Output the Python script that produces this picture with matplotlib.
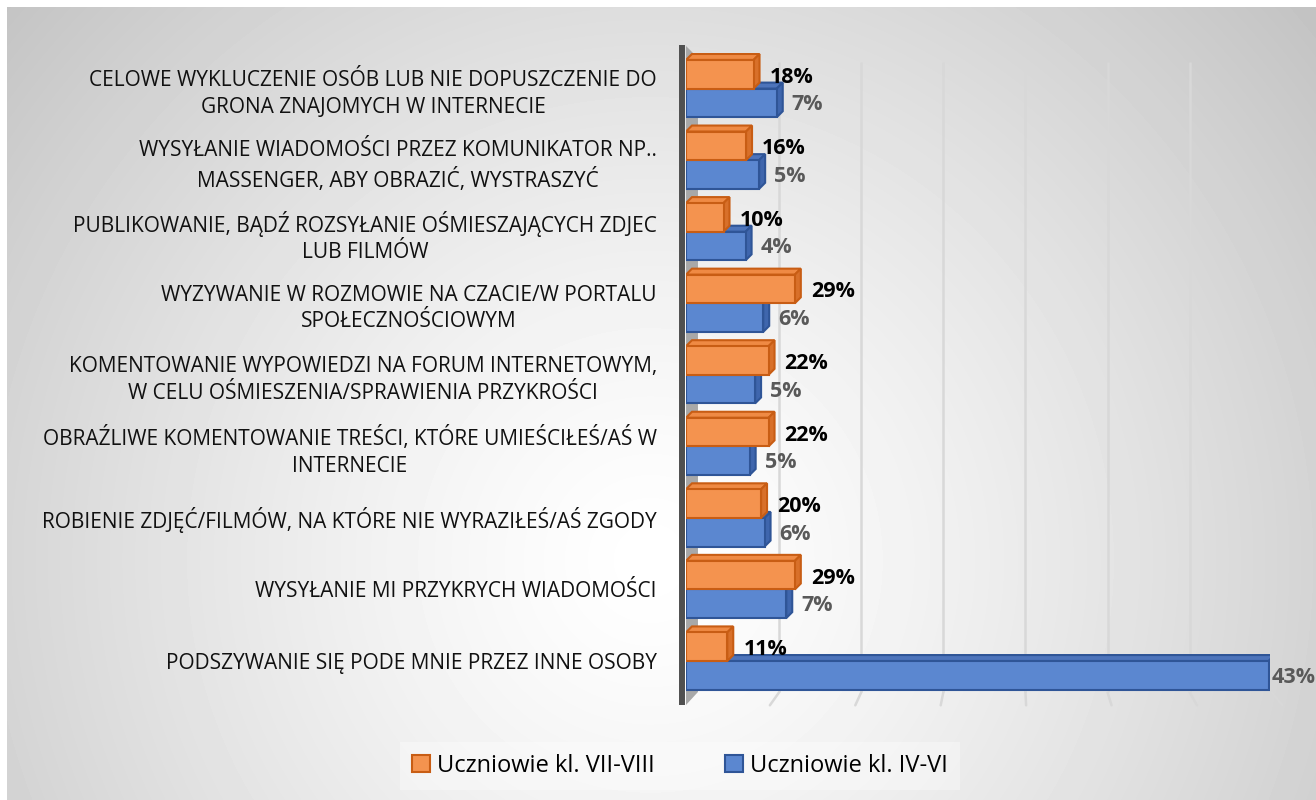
import numpy as np
import matplotlib
matplotlib.use('Agg')
import matplotlib.pyplot as plt
from matplotlib import patheffects
from matplotlib.colors import to_rgb
from matplotlib.path import Path
from matplotlib.patches import Patch, Polygon
from matplotlib.transforms import blended_transform_factory, ScaledTranslation, IdentityTransform

plt.rcParams['font.family'] = ['Open Sans', 'DejaVu Sans']

kategorie = [
    "CELOWE WYKLUCZENIE OSÓB LUB NIE DOPUSZCZENIE DO\nGRONA ZNAJOMYCH W INTERNECIE",
    "WYSYŁANIE WIADOMOŚCI PRZEZ KOMUNIKATOR NP..\nMASSENGER, ABY OBRAZIĆ, WYSTRASZYĆ",
    "PUBLIKOWANIE, BĄDŹ ROZSYŁANIE OŚMIESZAJĄCYCH ZDJEC\nLUB FILMÓW",
    "WYZYWANIE W ROZMOWIE NA CZACIE/W PORTALU\nSPOŁECZNOŚCIOWYM",
    "KOMENTOWANIE WYPOWIEDZI NA FORUM INTERNETOWYM,\nW CELU OŚMIESZENIA/SPRAWIENIA PRZYKROŚCI",
    "OBRAŹLIWE KOMENTOWANIE TREŚCI, KTÓRE UMIEŚCIŁEŚ/AŚ W\nINTERNECIE",
    "ROBIENIE ZDJĘĆ/FILMÓW, NA KTÓRE NIE WYRAZIŁEŚ/AŚ ZGODY",
    "WYSYŁANIE MI PRZYKRYCH WIADOMOŚCI",
    "PODSZYWANIE SIĘ PODE MNIE PRZEZ INNE OSOBY",
]
klasy_7_8 = [18, 16, 10, 29, 22, 22, 20, 29, 11]
klasy_4_6 = [6.7, 5.4, 4.4, 5.7, 5.1, 4.7, 5.8, 7.4, 43.0]
seria = ["Uczniowie kl. VII-VIII", "Uczniowie kl. IV-VI"]

W, H = 1316, 800


class Bryla(patheffects.AbstractPathEffect):
    """Dorysowuje gorna i boczna sciane slupka (efekt 3D)."""

    def __init__(self, glebokosc, gora, bok, krawedz):
        super().__init__()
        self.glebokosc = glebokosc
        self.gora = to_rgb(gora)
        self.bok = to_rgb(bok)
        self.krawedz = krawedz

    def draw_path(self, renderer, gc, tpath, affine, rgbFace=None):
        pts = affine.transform(tpath.vertices)
        x0, y0 = pts.min(axis=0)
        x1, y1 = pts.max(axis=0)
        d = renderer.points_to_pixels(self.glebokosc)
        gc0 = renderer.new_gc()
        gc0.copy_properties(gc)
        gc0.set_foreground(self.krawedz)
        gora = Path([(x0, y1), (x1, y1), (x1 + d, y1 + d), (x0 + d, y1 + d), (x0, y1)], closed=True)
        bok = Path([(x1, y0), (x1 + d, y0 + d), (x1 + d, y1 + d), (x1, y1), (x1, y0)], closed=True)
        renderer.draw_path(gc0, gora, IdentityTransform(), self.gora)
        renderer.draw_path(gc0, bok, IdentityTransform(), self.bok)
        renderer.draw_path(gc, tpath, affine, rgbFace)
        gc0.restore()


fig = plt.figure(figsize=(W / 100, H / 100), dpi=100, facecolor='white')

# tlo z gradientem radialnym
bg = fig.add_axes([7 / W, 0, 1 - 7 / W, 1 - 7 / H], zorder=-10)
xx, yy = np.meshgrid(np.arange(7, W), np.arange(7, H))
odl = np.hypot(xx - 650, yy - 560) / 900
bg.imshow(1 - 0.25 * np.clip(odl, 0, 1) ** 1.3, cmap='gray', vmin=0, vmax=1,
          aspect='auto', interpolation='bilinear')
bg.axis('off')

ax = fig.add_axes([686 / W, (H - 696.8) / H, 584 / W, 644 / H])
ax.set_facecolor('none')
ax.set_xlim(0, 43.1)
y = np.arange(len(kategorie))
ax.set_ylim(len(kategorie) - 0.5, -0.5)
for s in ax.spines.values():
    s.set_visible(False)
ax.set_xticks([])
ax.set_yticks(y)
ax.set_yticklabels(kategorie, fontsize=15, color='#111111')
for t in ax.get_yticklabels():
    t.set_multialignment('center')
    t.set_linespacing(1.35)
ax.tick_params(axis='y', length=0, pad=21)

# os pomocnicza dla drugiej serii
ax2 = ax.twiny()
ax2.set_xlim(0, 43.1 * 3.61)
ax2.set_ylim(ax.get_ylim())
ax2.axis('off')

# siatka na tylnej scianie i jej slady na podlodze
pion = blended_transform_factory(ax.transData, ax.transAxes)
tyl = pion + ScaledTranslation(0.11, 0, fig.dpi_scale_trans)
siatka = np.arange(1, 8) * 6.06
ax.vlines(siatka, 0.007, 0.985, transform=tyl, colors='#d8d8d8', lw=1.8, zorder=0.5)
for k, gx in enumerate(siatka, start=1):
    ax.annotate('', xy=(gx, 0.007), xycoords=tyl, xytext=((k - 3.8) * 3.3, -13),
                textcoords='offset pixels',
                arrowprops=dict(arrowstyle='-', color='#d8d8d8', lw=1.8, shrinkA=0, shrinkB=0))

# boczna sciana i os kategorii
ax.add_patch(Polygon([(0, 1.0106), (0.0205, 0.992), (0.0205, 0.0075), (0, -0.0127)],
                     closed=True, transform=ax.transAxes, facecolor='#a8a8a8',
                     edgecolor='none', zorder=0.6, clip_on=False))
ax.plot([0, 0], [-0.0127, 1.0125],
        transform=pion + ScaledTranslation(-0.04, 0, fig.dpi_scale_trans),
        color='#505050', lw=4.3, solid_capstyle='butt', clip_on=False, zorder=0.7)

h = 0.4
ax.barh(y + h / 2, klasy_4_6, height=h, color='#5b87d0', edgecolor='#2f5597', lw=1.5, zorder=2,
        path_effects=[Bryla(4.3, '#4d74bb', '#3f66ad', '#2f5597')])
ax2.barh(y - h / 2, klasy_7_8, height=h, color='#f4934f', edgecolor='#c85d14', lw=1.5, zorder=2,
         path_effects=[Bryla(4.3, '#ef8a44', '#d8702a', '#c85d14')])

for yi, v in zip(y, klasy_7_8):
    ax2.annotate(f"{v}%", xy=(v, yi - h / 2), xytext=(16, -3), textcoords='offset pixels',
                 ha='left', va='center', fontsize=15.5, fontweight='bold', color='black')
for yi, v in zip(y, klasy_4_6):
    dx = 3 if v == max(klasy_4_6) else 15
    ax.annotate(f"{v:.0f}%", xy=(v, yi + h / 2), xytext=(dx, -2), textcoords='offset pixels',
                ha='left', va='center', fontsize=15.5, fontweight='bold', color='#595959',
                annotation_clip=False)

uchwyty = [Patch(facecolor='#f4934f', edgecolor='#c85d14', lw=1.5, label=seria[0]),
           Patch(facecolor='#5b87d0', edgecolor='#2f5597', lw=1.5, label=seria[1])]
fig.legend(handles=uchwyty, loc='center', bbox_to_anchor=(680 / W, 1 - 766 / H), ncol=2,
           frameon=True, facecolor='white', framealpha=0.35, edgecolor='none', fancybox=False,
           fontsize=17, handlelength=0.75, handleheight=0.75, handletextpad=0.3,
           columnspacing=3.0, borderpad=0.5)

fig.savefig('out.png', dpi=100)
